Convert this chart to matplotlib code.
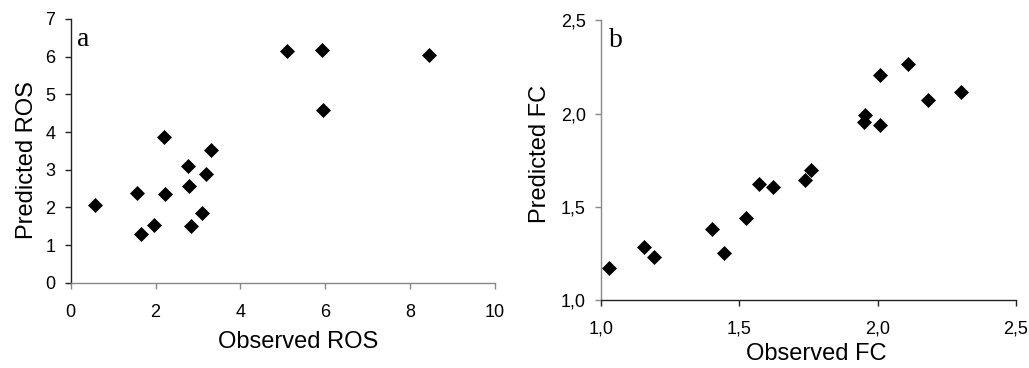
import matplotlib
matplotlib.use('Agg')
import matplotlib.pyplot as plt

plt.rcParams['font.family'] = ['Liberation Sans', 'DejaVu Sans']

# panel a: rate of spread
obs_ros = [0.58, 1.56, 1.66, 1.96, 2.19, 2.22, 2.76, 2.80, 2.83, 3.09, 3.20, 3.30, 5.11, 5.93, 5.95, 8.44]
pred_ros = [2.06, 2.37, 1.29, 1.54, 3.88, 2.35, 3.09, 2.58, 1.50, 1.85, 2.89, 3.51, 6.14, 6.19, 4.59, 6.04]

# panel b: fuel consumption
obs_fc = [1.027, 1.154, 1.193, 1.400, 1.445, 1.523, 1.572, 1.623, 1.739, 1.760,
          1.953, 1.952, 2.010, 2.010, 2.110, 2.180, 2.300]
pred_fc = [1.170, 1.283, 1.231, 1.381, 1.252, 1.442, 1.622, 1.604, 1.642, 1.699,
           1.990, 1.955, 2.205, 1.939, 2.268, 2.075, 2.117]

ros_xticks = [0, 2, 4, 6, 8, 10]
ros_yticks = [0, 1, 2, 3, 4, 5, 6, 7]
fc_ticks = [1.0, 1.5, 2.0, 2.5]
fc_ticklabels = ['1,0', '1,5', '2,0', '2,5']

fig = plt.figure(figsize=(10.29, 3.68), dpi=100)
ax1 = fig.add_axes([0.0687, 0.2318, 0.4123, 0.7166])
ax2 = fig.add_axes([0.5841, 0.1848, 0.4033, 0.760])

dark = '#222222'
grey = '#888888'

def style(ax, left_col, bottom_col):
    ax.spines['top'].set_visible(False)
    ax.spines['right'].set_visible(False)
    ax.spines['left'].set_color(left_col)
    ax.spines['bottom'].set_color(bottom_col)
    ax.spines['left'].set_linewidth(1.0)
    ax.spines['bottom'].set_linewidth(1.0)
    ax.tick_params(axis='y', direction='out', length=4, width=1.0, color=left_col,
                   labelsize=13, pad=7)
    ax.tick_params(axis='x', direction='out', length=4, width=1.0, color=bottom_col,
                   labelsize=13, pad=11)

ax1.plot(obs_ros, pred_ros, 'D', color='black', markersize=6.8, markeredgewidth=0.5, clip_on=False)
ax1.set_xlim(0, 10)
ax1.set_ylim(0, 7)
ax1.set_xticks(ros_xticks)
ax1.set_yticks(ros_yticks)
style(ax1, dark, grey)
ax1.set_xlabel('Observed ROS', fontsize=17)
ax1.set_ylabel('Predicted ROS', fontsize=17)
ax1.xaxis.set_label_coords(0.535, -0.185)
ax1.yaxis.set_label_coords(-0.078, 0.465)
ax1.text(0.015, 0.898, 'a', transform=ax1.transAxes, fontsize=20, family='Liberation Serif')

ax2.plot(obs_fc, pred_fc, 'D', color='black', markersize=6.8, markeredgewidth=0.5, clip_on=False)
ax2.set_xlim(1.0, 2.5)
ax2.set_ylim(1.0, 2.5)
ax2.set_xticks(fc_ticks)
ax2.set_xticklabels(fc_ticklabels)
ax2.set_yticks(fc_ticks)
ax2.set_yticklabels(fc_ticklabels)
style(ax2, grey, dark)
ax2.set_xlabel('Observed FC', fontsize=17)
ax2.set_ylabel('Predicted FC', fontsize=17)
ax2.xaxis.set_label_coords(0.518, -0.155)
ax2.yaxis.set_label_coords(-0.12, 0.522)
ax2.text(0.019, 0.905, 'b', transform=ax2.transAxes, fontsize=20, family='Liberation Serif')

plt.savefig('out.png', dpi=100)
